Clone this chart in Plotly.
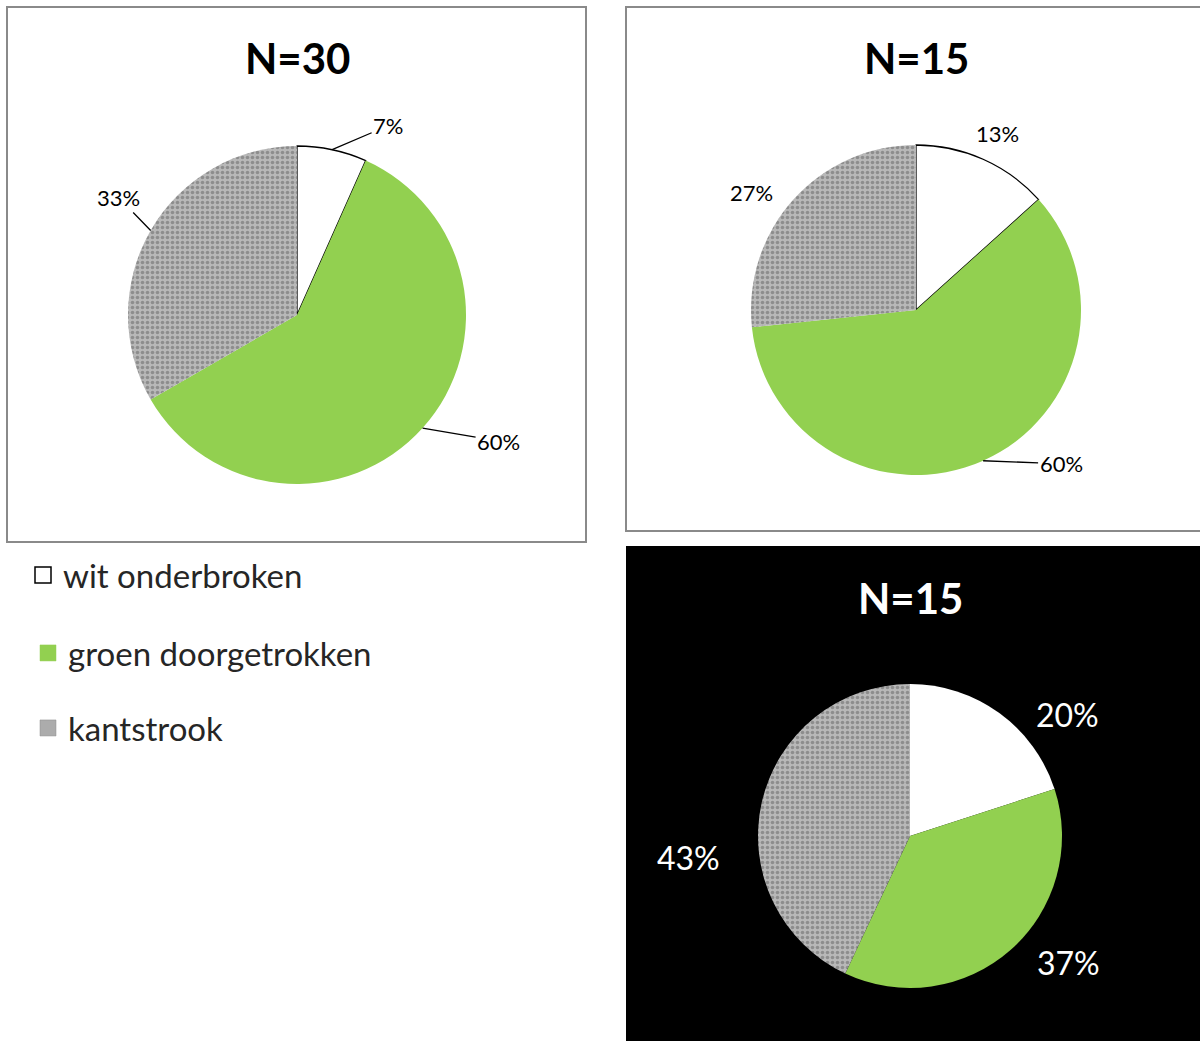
import math
import plotly.graph_objects as go

# ---------------- data ----------------
categories = ["wit onderbroken", "groen doorgetrokken", "kantstrook"]
titles = ["N=30", "N=15", "N=15"]
pie1_values = [2, 18, 10]      # N=30  -> 7%, 60%, 33%
pie2_values = [2, 9, 4]        # N=15  -> 13%, 60%, 27%
pie3_values = [20, 37, 43]     # percentages as labelled

# ---------------- styles / layout ----------------
W, H = 1200, 1041
colors = ["#ffffff", "#92d050", "#acacac"]
FONT = "Lato, Carlito, Calibri, sans-serif"


def px(x):
    return x / W


def py(y):
    return 1 - y / H


# pie geometry (centre x, centre y, radius) in screen pixels
pie_geo = [(297, 315, 169), (916, 310, 165), (910, 836, 152)]
# label offsets (pixels from slice edge midpoint to label centre) and leader-line flags
label_offsets = [
    [(56, -24, True), (76, 13, True), (-32, -33, True)],
    [(14, -26, False), (78, 3, True), (-42, -7, False)],
    [(68, 1, False), (58, 12, False), (-73, 55, False)],
]
label_font = [dict(size=22, color="#000000"), dict(size=22, color="#000000"),
              dict(size=32, color="#ffffff")]
title_pos = [(297, 58, "#000000"), (916, 58, "#000000"), (910, 598, "#ffffff")]

fig = go.Figure()

all_values = [pie1_values, pie2_values, pie3_values]
annotations = []
for i, vals in enumerate(all_values):
    cx, cy, r = pie_geo[i]
    outline = i < 2
    fig.add_trace(go.Pie(
        labels=categories,
        values=vals,
        sort=False,
        direction="clockwise",
        rotation=0,
        textinfo="none",
        hoverinfo="label+percent",
        showlegend=False,
        domain=dict(x=[px(cx - r), px(cx + r)], y=[py(cy + r), py(cy - r)]),
        marker=dict(
            colors=colors,
            line=dict(color="#000000", width=[1.3 if outline else 0, 0, 0]),
            pattern=dict(shape=["", "", "."], fgcolor="#626262",
                         bgcolor="#b8b8b8", size=5, solidity=0.4,
                         fillmode="overlay"),
        ),
    ))
    total = float(sum(vals))
    cum = 0.0
    for j, v in enumerate(vals):
        frac = v / total
        mid = (cum + frac / 2) * 2 * math.pi
        cum += frac
        ex = cx + r * math.sin(mid)
        ey = cy - r * math.cos(mid)
        ox, oy, line = label_offsets[i][j]
        annotations.append(dict(
            x=px(ex), y=py(ey), xref="paper", yref="paper",
            text=f"{round(frac * 100):.0f}%",
            showarrow=True, ax=ox, ay=oy, arrowhead=0, arrowwidth=1.3,
            arrowcolor="#000000" if line else "rgba(0,0,0,0)",
            standoff=0, startstandoff=0,
            font=dict(family=FONT, **label_font[i]),
        ))
    tx, ty, tc = title_pos[i]
    annotations.append(dict(
        x=px(tx), y=py(ty), xref="paper", yref="paper", showarrow=False,
        text=f"<b>{titles[i]}</b>", xanchor="center", yanchor="middle",
        font=dict(family=FONT, size=42, color=tc),
    ))

# legend entries (one legend per item to get the wide spacing)
legend_names = ["legend", "legend2", "legend3"]
legend_lines = ["#000000", colors[1], "#8c8c8c"]
for k, cat in enumerate(categories):
    fig.add_trace(go.Scatter(
        x=[None], y=[None], mode="markers", name=cat, showlegend=True,
        legend=legend_names[k],
        marker=dict(symbol="square", size=16, color=colors[k],
                    line=dict(color=legend_lines[k], width=1.5 if k == 0 else 0.5)),
    ))

legend_y = [575, 653, 728]
leg_common = dict(xanchor="left", yanchor="middle", bgcolor="rgba(0,0,0,0)",
                  borderwidth=0, font=dict(family=FONT, size=33, color="#262626"),
                  itemsizing="trace")

shapes = [
    dict(type="rect", xref="paper", yref="paper", x0=px(7), x1=px(586), y0=py(542), y1=py(7),
         fillcolor="#ffffff", line=dict(color="#8a8a8a", width=2), layer="below"),
    dict(type="rect", xref="paper", yref="paper", x0=px(626), x1=px(1203), y0=py(531), y1=py(7),
         fillcolor="#ffffff", line=dict(color="#8a8a8a", width=2), layer="below"),
    dict(type="rect", xref="paper", yref="paper", x0=px(626), x1=px(1203), y0=py(1045), y1=py(546),
         fillcolor="#000000", line=dict(width=0), layer="below"),
]

fig.update_layout(
    width=W, height=H,
    margin=dict(l=0, r=0, t=0, b=0),
    paper_bgcolor="#ffffff",
    plot_bgcolor="rgba(0,0,0,0)",
    xaxis=dict(visible=False),
    yaxis=dict(visible=False),
    shapes=shapes,
    annotations=annotations,
    legend=dict(x=px(23), y=py(legend_y[0]), **leg_common),
    legend2=dict(x=px(28), y=py(legend_y[1]), **leg_common),
    legend3=dict(x=px(28), y=py(legend_y[2]), **leg_common),
)

# remove the default 8px page margin so the figure fills the window exactly
fig.write_html("out.html", config={"displayModeBar": False},
               post_script="document.body.style.margin='0';document.body.style.overflow='hidden';")
